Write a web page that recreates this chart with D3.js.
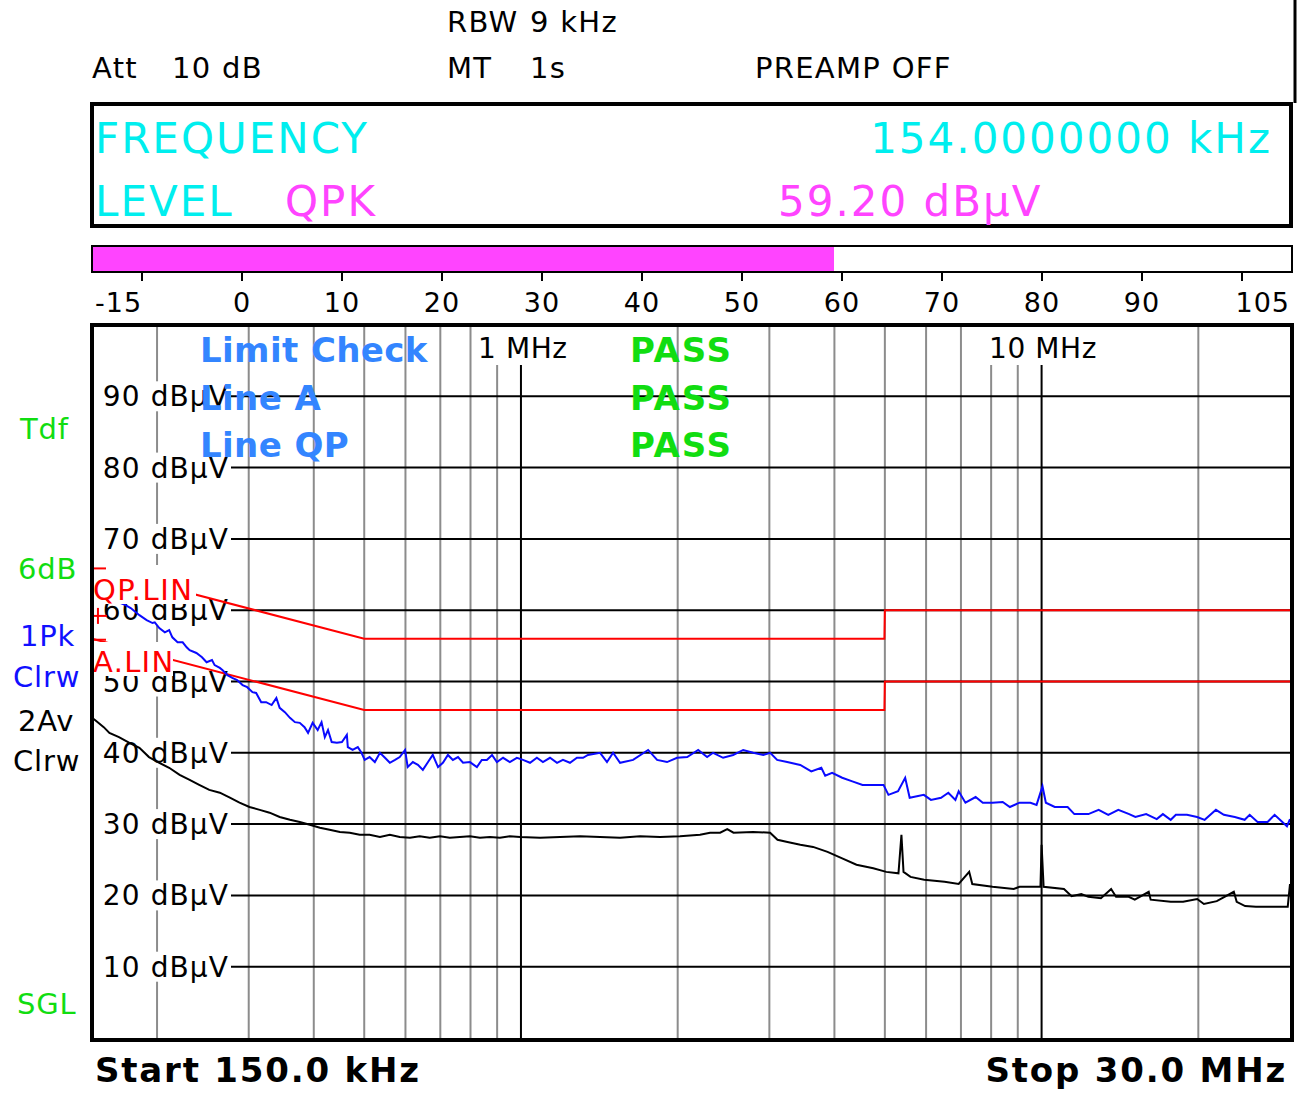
<!DOCTYPE html>
<html><head><meta charset="utf-8">
<script src="https://cdn.jsdelivr.net/npm/d3@7"></script>
<style>body{margin:0;background:#fff}svg{display:block}text{font-family:"DejaVu Sans",Verdana,sans-serif}</style>
</head><body><div id="chart"></div>
<script>
// ---------- data ----------
const peakFreq = [0.150,0.164,0.173,0.178,0.185,0.191,0.196,0.198,0.202,0.207,0.211,0.214,0.219,0.224,0.228,0.231,0.238,0.244,0.249,0.255,0.258,0.264,0.267,0.273,0.279,0.285,0.292,0.298,0.305,0.310,0.317,0.324,0.332,0.339,0.344,0.352,0.360,0.368,0.376,0.384,0.390,0.398,0.407,0.414,0.420,0.426,0.433,0.443,0.453,0.463,0.465,0.475,0.486,0.494,0.501,0.512,0.524,0.536,0.548,0.560,0.573,0.585,0.599,0.606,0.620,0.634,0.648,0.663,0.677,0.693,0.708,0.724,0.740,0.757,0.774,0.798,0.823,0.841,0.860,0.880,0.899,0.924,0.952,0.982,1.009,1.041,1.073,1.102,1.137,1.173,1.204,1.242,1.281,1.316,1.345,1.419,1.463,1.503,1.550,1.642,1.755,1.826,1.908,1.995,2.086,2.190,2.278,2.339,2.445,2.556,2.672,2.793,2.920,3.011,3.105,3.246,3.439,3.611,3.775,3.84,3.96,4.14,4.33,4.53,4.75,4.97,5.08,5.30,5.47,5.58,5.94,6.13,6.41,6.62,6.83,6.93,7.14,7.47,7.71,8.05,8.42,8.69,9.07,9.52,9.78,10.04,10.19,10.60,11.22,11.56,12.30,12.87,13.43,14.04,14.73,15.14,15.88,16.64,17.10,17.70,18.11,19.02,19.89,20.57,21.62,22.39,23.50,24.55,25.10,25.99,27.17,28.03,29.6,30.0];
const peakLevel = [61.0,61.5,60.8,60.3,59.3,58.6,58.2,58.3,57.5,56.9,57.2,56.2,55.5,55.5,54.8,54.4,54.0,53.4,52.7,53.0,52.3,51.9,51.6,50.9,50.5,50.2,49.5,49.2,48.5,48.4,47.1,47.1,46.7,47.7,46.3,45.7,44.9,44.3,44.2,43.6,42.8,44.2,43.2,44.3,42.2,43.2,41.5,41.4,41.5,42.5,40.8,40.4,40.8,40.0,39.0,39.4,38.7,40.0,39.3,38.6,39.0,39.4,40.4,38.0,38.7,38.3,37.6,38.7,39.7,38.0,38.6,39.7,39.0,39.4,38.6,38.7,38.0,39.0,39.0,39.7,38.7,39.3,38.7,39.3,39.0,38.6,39.3,38.7,39.3,38.6,39.0,38.6,39.3,39.3,39.7,40.0,38.7,40.0,38.6,39.0,40.4,39.0,38.7,39.3,39.4,40.4,39.4,40.0,39.3,39.7,40.4,40.0,39.7,40.0,39.0,38.7,38.3,37.4,37.9,36.8,37.2,36.5,36.0,35.5,35.5,35.5,34.1,34.6,36.5,33.7,34.1,33.4,33.7,34.4,33.4,34.6,33.0,33.8,33.0,33.0,33.1,32.4,33.0,33.0,32.7,35.3,33.0,32.4,32.4,31.4,31.4,32.0,31.3,32.0,31.4,31.0,31.4,30.7,31.4,30.6,31.3,31.3,31.0,30.6,32.0,31.3,31.0,30.6,31.3,30.3,30.3,31.3,29.7,30.7];

const avgFreq = [0.150,0.152,0.158,0.162,0.169,0.177,0.185,0.193,0.202,0.211,0.221,0.231,0.241,0.252,0.264,0.276,0.288,0.301,0.315,0.329,0.344,0.360,0.376,0.393,0.411,0.429,0.449,0.469,0.490,0.512,0.536,0.560,0.585,0.612,0.639,0.668,0.699,0.730,0.763,0.798,0.834,0.872,0.911,0.952,0.996,1.088,1.189,1.299,1.419,1.550,1.693,1.850,2.021,2.208,2.308,2.413,2.49,2.56,2.79,3.01,3.11,3.25,3.44,3.64,3.88,4.14,4.41,4.75,5.03,5.31,5.38,5.43,5.60,5.95,6.51,6.93,7.26,7.36,8.05,8.84,9.07,9.95,10.00,10.09,11.04,11.42,11.92,12.30,13.0,13.6,13.9,14.7,15.1,16.06,16.2,17.7,18.7,19.9,20.5,21.7,23.4,23.7,24.6,25.8,27.8,29.7,30.0];
const avgLevel = [44.9,44.6,43.6,42.8,42.2,41.4,40.7,39.4,38.6,37.9,36.9,36.2,35.5,34.8,34.4,33.7,33.0,32.4,32.0,31.6,31.0,30.6,30.3,29.9,29.5,29.2,28.9,28.8,28.5,28.5,28.2,28.5,28.2,28.1,28.3,28.1,28.3,28.1,28.2,28.3,28.1,28.2,28.1,28.3,28.2,28.1,28.2,28.3,28.2,28.1,28.3,28.2,28.3,28.5,28.8,28.8,29.3,28.8,28.9,28.8,27.8,27.5,27.1,26.8,26.1,25.2,24.3,23.8,23.3,23.1,28.5,23.3,22.6,22.2,21.9,21.6,23.3,21.6,21.2,20.9,21.2,21.2,27.1,21.2,20.9,19.9,20.2,19.8,19.6,20.9,19.8,19.8,19.4,20.5,19.4,19.1,19.1,19.5,18.8,19.2,20.5,19.1,18.5,18.4,18.4,18.4,21.6];

// limit lines (CISPR class B) : frequency MHz / level dBuV
const qpLimitFreq  = [0.15,0.5,4.99,5.0,30.0];
const qpLimitLevel = [66,56,56,60,60];
const avLimitFreq  = [0.15,0.5,4.99,5.0,30.0];
const avLimitLevel = [56,46,46,50,50];

const yTicks = [10,20,30,40,50,60,70,80,90];
const xGridMHz = [0.2,0.3,0.4,0.5,0.6,0.7,0.8,0.9,1,2,3,4,5,6,7,8,9,10,20];
const xLabelMHz = [1,10];
const xLabelText = ["1 MHz","10 MHz"];

const meterTicks = [-10,0,10,20,30,40,50,60,70,80,90,100];
const meterTickLabels = ["-15","0","10","20","30","40","50","60","70","80","90","105"];
const markerFreq = 0.154, markerLevel = 59.2;

const headerTexts = [["Att",92,78],["10 dB",172,78],["RBW",447,32],["9 kHz",530,32],["MT",447,78],["1s",530,78],["PREAMP OFF",755,78]];
const sideLabels = [["Tdf",20,439,"#11dd11"],["6dB",18,579,"#11dd11"],["1Pk",20,646,"#1010ff"],["Clrw",13,687,"#1010ff"],["2Av",18,731,"#000"],["Clrw",13,771,"#000"],["SGL",17,1014,"#11dd11"]];
const checkNames = ["Limit Check","Line A","Line QP"];
const checkResults = ["PASS","PASS","PASS"];

// ---------- drawing ----------
const W=1300,H=1095;
const svg=d3.select("#chart").append("svg").attr("width",W).attr("height",H);
const L=92,R=1292,T=325,B=1040;
const x=d3.scaleLog().domain([0.15,30]).range([92,1290]);
const y=d3.scaleLinear().domain([0,100]).range([1038,325]);

// header
headerTexts.forEach(t=>svg.append("text").attr("x",t[1]).attr("y",t[2]).attr("font-size",29).attr("letter-spacing",1.3).attr("fill","#000").text(t[0]));
svg.append("line").attr("x1",1295).attr("x2",1295).attr("y1",0).attr("y2",103).attr("stroke","#000").attr("stroke-width",3);

// info box
svg.append("rect").attr("x",92).attr("y",104).attr("width",1199).attr("height",122).attr("fill","#fff").attr("stroke","#000").attr("stroke-width",4);
const big = (tx,ty,txt,col,anchor)=>svg.append("text").attr("x",tx).attr("y",ty).attr("font-size",42).attr("letter-spacing",2)
  .attr("text-anchor",anchor||"start").attr("fill",col).text(txt);
big(95,153,"FREQUENCY","#00eeee");
big(1272,153,"154.0000000 kHz","#00eeee","end");
big(95,216,"LEVEL","#00eeee");
big(285,216,"QPK","#ff44ff");
big(778,216,markerLevel.toFixed(2)+" dBµV","#ff44ff");

// meter
const m=d3.scaleLinear().domain([-15,105]).range([92,1292]);
svg.append("rect").attr("x",92).attr("y",246).attr("width",1200).attr("height",26).attr("fill","#fff").attr("stroke","#000").attr("stroke-width",2);
svg.append("rect").attr("x",93).attr("y",247).attr("width",m(markerLevel)-93).attr("height",24).attr("fill","#ff44ff");
meterTicks.forEach((v,i)=>{
  svg.append("line").attr("x1",m(v)).attr("x2",m(v)).attr("y1",272).attr("y2",281).attr("stroke","#000").attr("stroke-width",2);
  const t=svg.append("text").attr("y",312).attr("font-size",27).attr("letter-spacing",1).attr("fill","#000").text(meterTickLabels[i]);
  if(i===0) t.attr("x",95);
  else if(i===meterTicks.length-1) t.attr("x",1290).attr("text-anchor","end");
  else t.attr("x",m(v)).attr("text-anchor","middle");
});

// plot background
svg.append("rect").attr("x",L).attr("y",T).attr("width",R-L).attr("height",B-T).attr("fill","#fff");
const g=svg.append("g");
// vertical grid
xGridMHz.forEach(f=>{
  const dec = (f===1||f===10);
  g.append("line").attr("x1",x(f)).attr("x2",x(f)).attr("y1",T).attr("y2",B)
   .attr("stroke",dec?"#000":"#8c8c8c").attr("stroke-width",2);
});
// horizontal grid
yTicks.forEach(v=>{
  g.append("line").attr("x1",231).attr("x2",R).attr("y1",y(v)).attr("y2",y(v)).attr("stroke","#000").attr("stroke-width",2);
});
// y labels with white backgrounds
yTicks.forEach(v=>{
  g.append("rect").attr("x",103).attr("y",y(v)-15).attr("width",127).attr("height",30).attr("fill","#fff");
  g.append("text").attr("x",229).attr("y",y(v)+10).attr("text-anchor","end").attr("font-size",28).attr("letter-spacing",1.1).attr("fill","#000").text(v+" dBµV");
});

// limit lines
const lineGen=d3.line().x(d=>x(d[0])).y(d=>y(d[1]));
[[qpLimitFreq,qpLimitLevel],[avLimitFreq,avLimitLevel]].forEach(([fs,ls])=>{
  g.append("path").attr("d",lineGen(fs.map((f,i)=>[f,ls[i]]))).attr("fill","none").attr("stroke","#ff0000").attr("stroke-width",2);
});
// traces
g.append("path").attr("d",lineGen(avgFreq.map((f,i)=>[f,avgLevel[i]]))).attr("fill","none").attr("stroke","#000").attr("stroke-width",2);
g.append("path").attr("d",lineGen(peakFreq.map((f,i)=>[f,peakLevel[i]]))).attr("fill","none").attr("stroke","#0a0aff").attr("stroke-width",2);

// limit labels
g.append("rect").attr("x",92).attr("y",565).attr("width",104).attr("height",39).attr("fill","#fff");
g.append("text").attr("x",93).attr("y",600).attr("font-size",29).attr("letter-spacing",1.5).attr("fill","#ff0000").text("QP.LIN");
g.append("rect").attr("x",92).attr("y",642).attr("width",81).attr("height",34).attr("fill","#fff");
g.append("text").attr("x",93).attr("y",672).attr("font-size",29).attr("letter-spacing",1.3).attr("fill","#ff0000").text("A.LIN");
[qpLimitLevel[0],avLimitLevel[0]].forEach(v=>{
  g.append("line").attr("x1",92).attr("x2",106).attr("y1",y(v)+1).attr("y2",y(v)+1).attr("stroke","#ff0000").attr("stroke-width",2);
});
// marker
g.append("line").attr("x1",93).attr("x2",107).attr("y1",y(markerLevel)).attr("y2",y(markerLevel)).attr("stroke","#ff0000").attr("stroke-width",2);
g.append("line").attr("x1",x(markerFreq)).attr("x2",x(markerFreq)).attr("y1",y(markerLevel)-8).attr("y2",y(markerLevel)+8).attr("stroke","#ff0000").attr("stroke-width",2);

// limit check text
checkNames.forEach((n,i)=>{
  g.append("text").attr("x",200).attr("y",362+i*47.5).attr("font-size",34).attr("font-weight","bold").attr("letter-spacing",0.4).attr("fill","#3385ff").text(n);
  g.append("text").attr("x",630).attr("y",362+i*47.5).attr("font-size",34).attr("font-weight","bold").attr("letter-spacing",1.8).attr("fill","#11dd11").text(checkResults[i]);
});

// frequency labels
xLabelMHz.forEach((f,i)=>{
  const tx = f===1?478:989;
  g.append("rect").attr("x",tx-3).attr("y",T+2).attr("width",f===1?96:113).attr("height",38).attr("fill","#fff");
  g.append("text").attr("x",tx).attr("y",358).attr("font-size",28).attr("letter-spacing",0.6).attr("fill","#000").text(xLabelText[i]);
});

// frame
svg.append("rect").attr("x",L).attr("y",T).attr("width",R-L).attr("height",B-T).attr("fill","none").attr("stroke","#000").attr("stroke-width",4);

// side labels
sideLabels.forEach(s=>svg.append("text").attr("x",s[1]).attr("y",s[2]).attr("font-size",29).attr("letter-spacing",0.8).attr("fill",s[3]).text(s[0]));

// footer
svg.append("text").attr("x",95).attr("y",1082).attr("font-size",34).attr("font-weight","bold").attr("letter-spacing",1.8).attr("fill","#000").text("Start 150.0 kHz");
svg.append("text").attr("x",1287).attr("y",1082).attr("text-anchor","end").attr("font-size",34).attr("font-weight","bold").attr("letter-spacing",1.8).attr("fill","#000").text("Stop 30.0 MHz");
</script></body></html>
